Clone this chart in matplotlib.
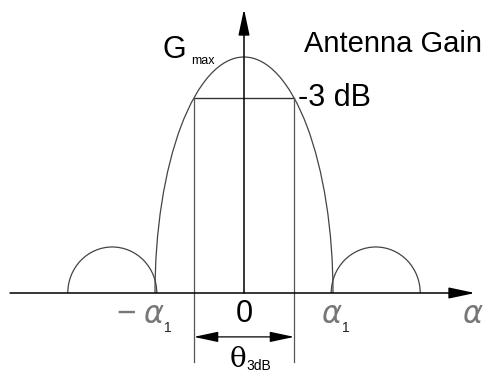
import matplotlib
matplotlib.use("Agg")
import matplotlib.pyplot as plt
from matplotlib.patches import Arc

# Antenna pattern (normalized): alpha_1 = first null, G_max = 1
alpha_1 = 1.0
g_max = 1.0
g_3db = 0.826
side_centers = [-1.48, 1.48]
side_width = 1.0
side_height = 0.195

# half beamwidth where the -3 dB level meets the main lobe
theta_half = (1 - (g_3db / g_max) ** 2) ** 0.5 * alpha_1

plt.rcParams["font.family"] = ["Liberation Sans", "DejaVu Sans"]

fig = plt.figure(figsize=(4.88, 3.74), dpi=100)
ax = fig.add_axes([0, 0, 1, 1])
ax.set_xlim(-244 / 89, 244 / 89)
ax.set_ylim(-81 / 236, 293 / 236)
ax.axis("off")

curve = "#444444"

# main lobe and side lobes as half ellipses
ax.add_patch(Arc((0, 0), 2 * alpha_1, 2 * g_max, theta1=0, theta2=180,
                 color=curve, lw=0.9))
for c in side_centers:
    ax.add_patch(Arc((c, 0), side_width, 2 * side_height, theta1=0, theta2=180,
                     color=curve, lw=0.9))

# axes with arrow heads
arrow = dict(arrowstyle="-|>,head_length=0.8,head_width=0.17", color="black",
             lw=1.1, mutation_scale=20, shrinkA=0, shrinkB=0)
ax.annotate("", xy=(231 / 89, 0), xytext=(-234 / 89, 0), arrowprops=arrow)
ax.annotate("", xy=(0, 284 / 236), xytext=(0, 0), arrowprops=arrow)

# -3 dB level and beamwidth markers
ax.plot([-theta_half, theta_half], [g_3db, g_3db], color="#333333", lw=1.0)
for x in (-theta_half, theta_half):
    ax.plot([x, x], [g_3db, -0.292], color="#555555", lw=0.9)
dim = dict(arrowstyle="<|-|>,head_length=0.75,head_width=0.16", color="black",
           lw=0.9, mutation_scale=20, shrinkA=0, shrinkB=0)
ax.annotate("", xy=(theta_half, -0.186), xytext=(-theta_half, -0.186),
            arrowprops=dim)

# labels
ax.text(0.67, 1.057, "Antenna Gain", fontsize=21, va="center", ha="left")
ax.text(0.61, 0.826, "-3 dB", fontsize=22, va="center", ha="left")
ax.text(-0.92, 1.03, "G", fontsize=22, va="center", ha="left")
ax.text(-0.59, 0.985, "max", fontsize=9, va="center", ha="left")
ax.text(0, -0.09, "0", fontsize=22, va="center", ha="center")

agray = "#777777"
ax.text(-1.33, -0.09, "\u2212", fontsize=24, va="center", ha="center",
        color=agray)
for x0 in (-alpha_1, alpha_1):
    ax.text(x0 - 0.13, -0.09, "\u03b1", fontsize=22, va="center", ha="left",
            color=agray, family="DejaVu Sans", style="italic", weight="light")
    ax.text(x0 + 0.10, -0.15, "1", fontsize=10, va="center", ha="left",
            color="#222222")
ax.text(2.45, -0.09, "\u03b1", fontsize=22, va="center", ha="left",
        color=agray, family="DejaVu Sans", style="italic", weight="light")

ax.text(-0.16, -0.282, "\u03b8", fontsize=20, va="center", ha="left",
        family="DejaVu Serif")
ax.text(0.03, -0.31, "3dB", fontsize=10, va="center", ha="left")

fig.savefig("out.png", dpi=100)
